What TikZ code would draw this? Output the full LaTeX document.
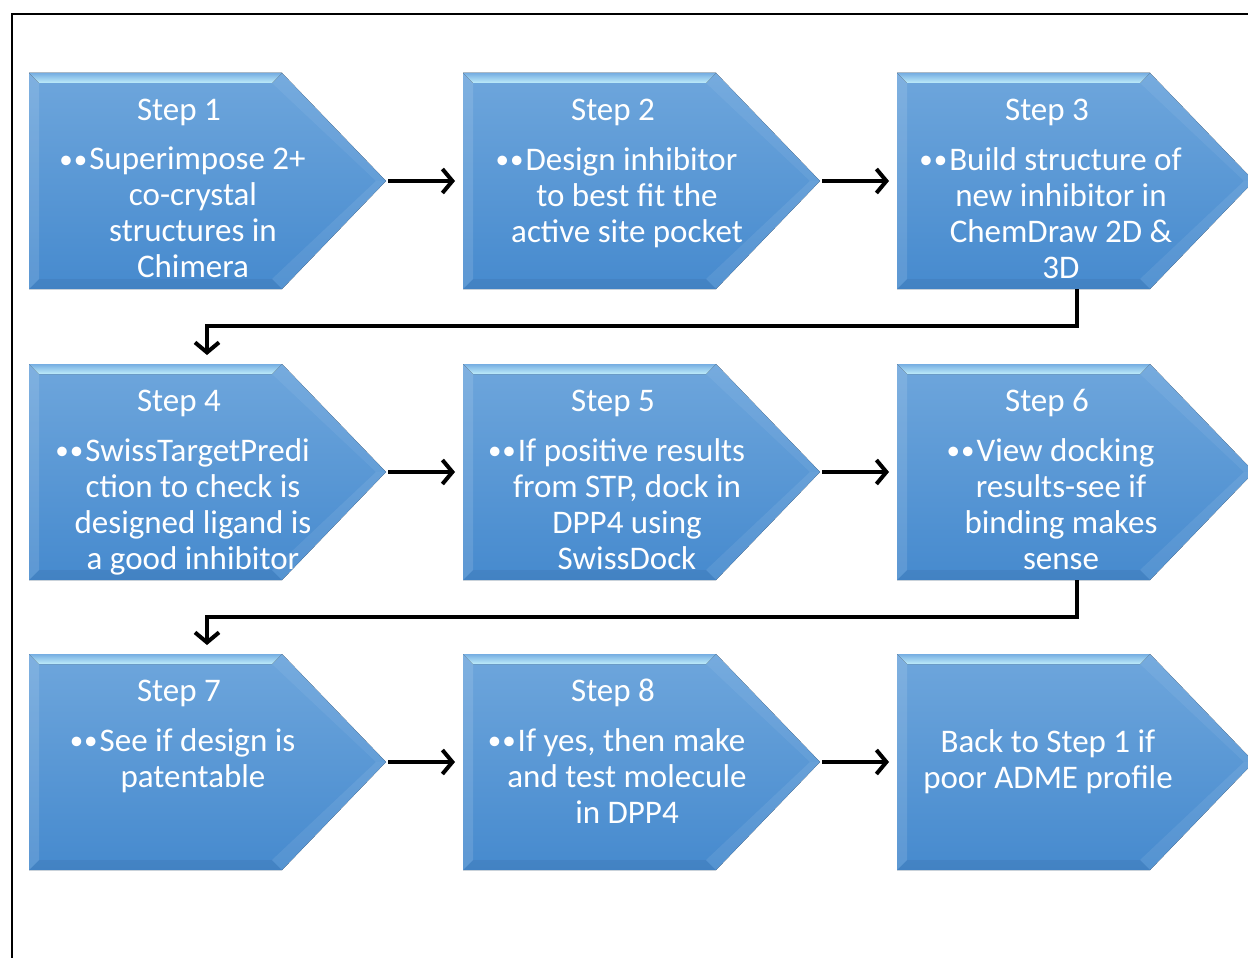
\documentclass[tikz,border=0pt]{standalone}
\usepackage{fontspec}
\setmainfont{Carlito}
\usetikzlibrary{arrows.meta,calc}
\definecolor{boxtop}{RGB}{110,166,220}
\definecolor{boxbot}{RGB}{70,138,206}
\definecolor{bevhi}{RGB}{190,236,250}
\definecolor{bevlo}{RGB}{118,174,226}
\tikzset{
  rectpart/.style={minimum width=253pt,minimum height=216pt,inner sep=0pt,outer sep=0pt,anchor=north west},
  titletext/.style={text=white,font=\fontsize{33}{36}\selectfont,inner sep=0pt},
  bodytext/.style={text=white,font=\fontsize{33}{36}\selectfont,align=center,inner sep=0pt,anchor=north},
  conn/.style={line width=4pt,-{Straight Barb[length=10pt,width=24pt]}},
}
\newcommand\chevbox[3]{%
  \node[rectpart] (#1) at (#2,#3) {};
  \coordinate (#1tip) at ($(#1.east)+(104,0)$);
  \fill[top color=boxtop,bottom color=boxbot] (#1.north west) -- (#1.north east) -- (#1tip) -- (#1.south east) -- (#1.south west) -- cycle;
  \fill[top color=bevlo,bottom color=bevhi] (#1.north west) -- (#1.north east) -- ($(#1.north east)+(-10,10)$) -- ($(#1.north west)+(10,10)$) -- cycle;
  \fill[white,fill opacity=0.12] (#1.north west) -- ($(#1.north west)+(10,10)$) -- ($(#1.south west)+(10,-10)$) -- (#1.south west) -- cycle;
  \fill[black,fill opacity=0.05] (#1.south west) -- ($(#1.south west)+(10,-10)$) -- ($(#1.south east)+(-10,-10)$) -- (#1.south east) -- cycle;
  \fill[white,fill opacity=0.06] (#1.north east) -- (#1tip) -- ($(#1tip)+(-10,0)$) -- ($(#1.north east)+(-10,10)$) -- cycle;
  \fill[white,fill opacity=0.08] (#1.south east) -- (#1tip) -- ($(#1tip)+(-10,0)$) -- ($(#1.south east)+(-10,-10)$) -- cycle;
}
\newcommand\stepblock[5]{% name, x, y, title, body
  \chevbox{#1}{#2}{#3}
  \node[titletext] (#1t) at ($(#1.north west)+(150,39)$) {#4};
  \node[bodytext] (#1b) at ($(#1.north west)+(164,74)$) {#5};
}
\newcommand\bul{\kern9pt\llap{\fontsize{27}{36}\selectfont\raisebox{1.5pt}{•\kern1pt•}\kern2pt}}
\begin{document}
\begin{tikzpicture}[x=1pt,y=-1pt]
\useasboundingbox (0,0) rectangle (1248,958);
\fill[white] (0,0) rectangle (1248,958);
\draw[line width=2.5pt] (12,958) -- (12,14) -- (1248,14);

\stepblock{s1}{29}{73}{Step 1}{\bul Superimpose 2+\\co-crystal\\structures in\\Chimera}
\stepblock{s2}{463}{73}{Step 2}{\bul Design inhibitor\\to best fit the\\active site pocket}
\stepblock{s3}{897}{73}{Step 3}{\bul Build structure of\\new inhibitor in\\ChemDraw 2D \&\\3D}
\stepblock{s4}{29}{364}{Step 4}{\bul SwissTargetPredi\\ction to check is\\designed ligand is\\a good inhibitor}
\stepblock{s5}{463}{364}{Step 5}{\bul If positive results\\from STP, dock in\\DPP4 using\\SwissDock}
\stepblock{s6}{897}{364}{Step 6}{\bul View docking\\results-see if\\binding makes\\sense}
\stepblock{s7}{29}{654}{Step 7}{\bul See if design is\\patentable}
\stepblock{s8}{463}{654}{Step 8}{\bul If yes, then make\\and test molecule\\in DPP4}
\chevbox{s9}{897}{654}
\node[titletext,align=center] (s9t) at ($(s9.center)+(24.5,0)$) {Back to Step 1 if\\poor ADME profile};

\draw[conn,shorten <=2pt,shorten >=8pt] (s1tip) -- (s2.west);
\draw[conn,shorten <=2pt,shorten >=8pt] (s2tip) -- (s3.west);
\draw[conn,shorten <=2pt,shorten >=8pt] (s4tip) -- (s5.west);
\draw[conn,shorten <=2pt,shorten >=8pt] (s5tip) -- (s6.west);
\draw[conn,shorten <=2pt,shorten >=8pt] (s7tip) -- (s8.west);
\draw[conn,shorten <=2pt,shorten >=8pt] (s8tip) -- (s9.west);
\draw[conn,shorten >=9pt] ($(s3.south)+(53.5,0)$) -- ++(0,37) -| ($(s4.north)+(51.5,0)$);
\draw[conn,shorten >=9pt] ($(s6.south)+(53.5,0)$) -- ++(0,37) -| ($(s7.north)+(51.5,0)$);
\end{tikzpicture}
\end{document}
